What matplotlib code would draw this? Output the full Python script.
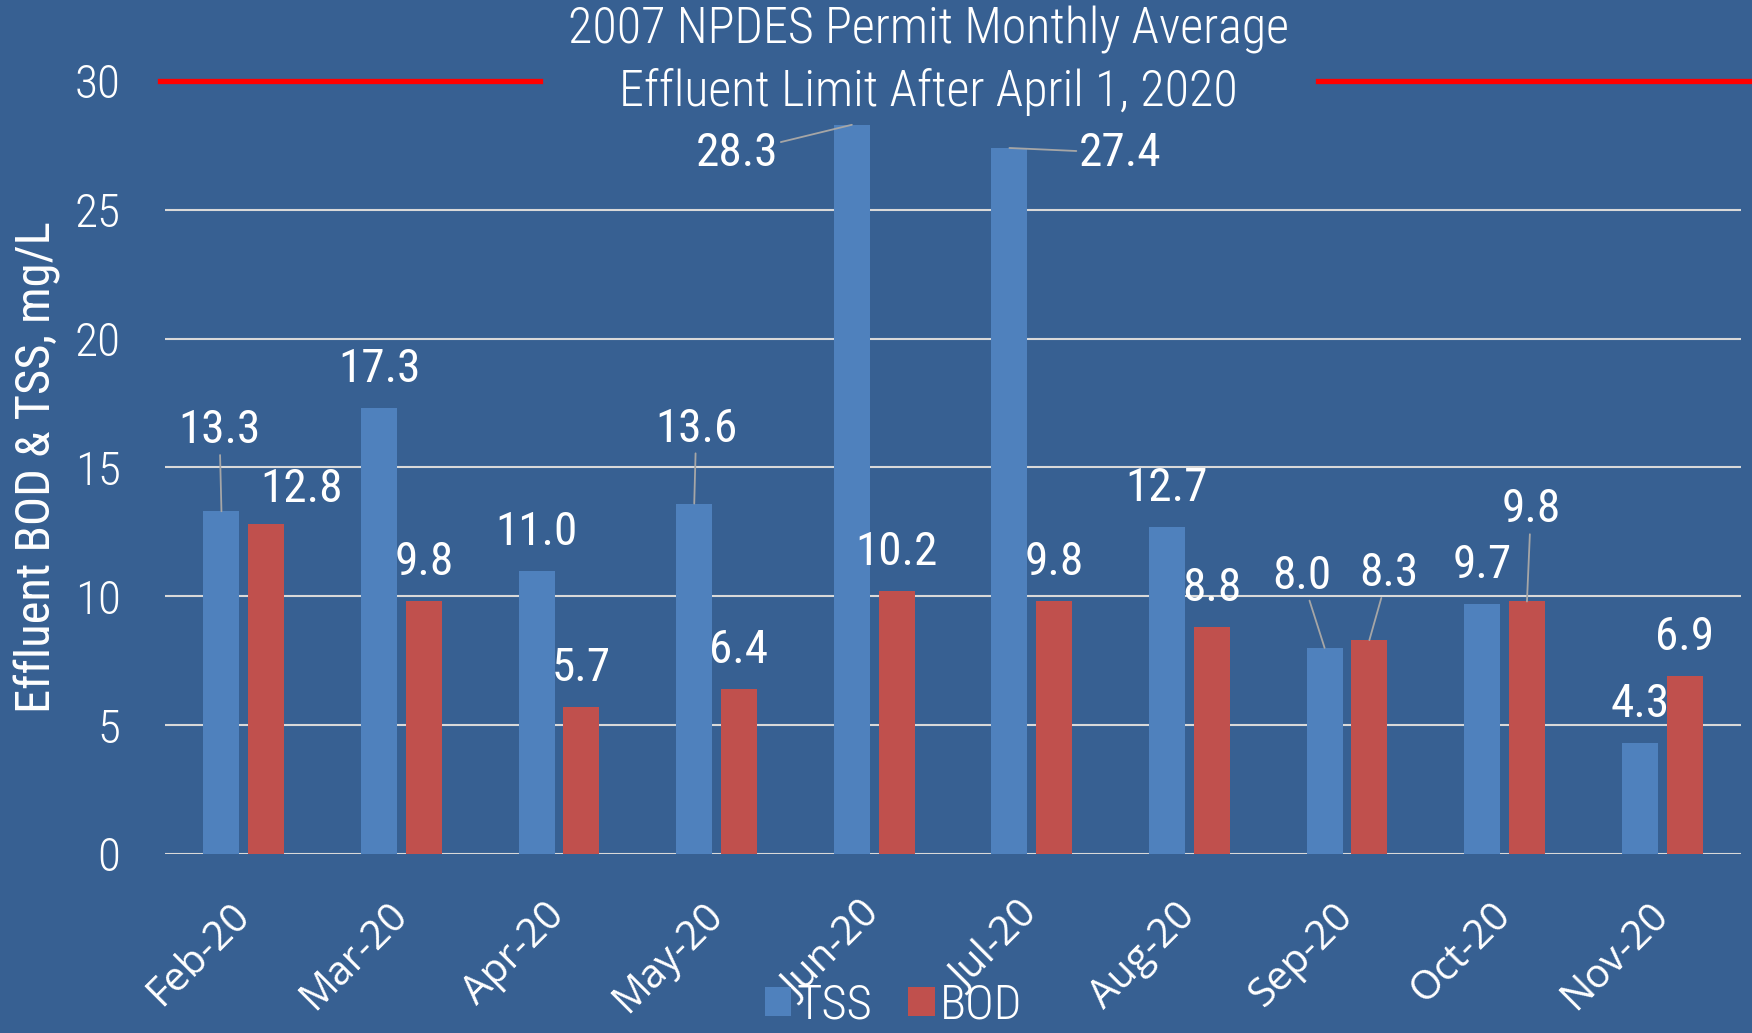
import matplotlib
matplotlib.use('Agg')
import matplotlib.pyplot as plt
import numpy as np
from matplotlib import font_manager

months = ['Feb-20', 'Mar-20', 'Apr-20', 'May-20', 'Jun-20',
          'Jul-20', 'Aug-20', 'Sep-20', 'Oct-20', 'Nov-20']
tss = [13.3, 17.3, 11.0, 13.6, 28.3, 27.4, 12.7, 8.0, 9.7, 4.3]
bod = [12.8, 9.8, 5.7, 6.4, 10.2, 9.8, 8.8, 8.3, 9.8, 6.9]
permit_limit = 30
yticks = [0, 5, 10, 15, 20, 25, 30]
title = '2007 NPDES Permit Monthly Average\nEffluent Limit After April 1, 2020'
ylabel = 'Effluent BOD & TSS, mg/L'

BG = '#376092'
TSS_C = '#4F81BD'
BOD_C = '#C0504D'
GRID_C = '#D9D9D9'


def pick(cands):
    names = {f.name for f in font_manager.fontManager.ttflist}
    for c in cands:
        if c in names:
            return c
    return 'DejaVu Sans'


narrow = pick(['Roboto Condensed', 'Liberation Sans Narrow', 'Open Sans Condensed',
               'PT Sans Narrow', 'Archivo Narrow', 'Fira Sans Condensed'])
wide = pick(['Open Sans', 'Noto Sans'])

fig = plt.figure(figsize=(17.52, 10.33), dpi=100, facecolor=BG)
ax = fig.add_axes([0.0942, 0.1733, 0.8995, 0.7483], facecolor=BG)

x = np.arange(len(months))
w = 0.228
off = 0.142
ax.bar(x - off, tss, w, color=TSS_C, label='TSS', zorder=2)
ax.bar(x + off, bod, w, color=BOD_C, label='BOD', zorder=2)

ax.set_xlim(-0.5, len(months) - 0.5)
ax.set_ylim(0, 30)
ax.set_yticks(yticks)
ax.set_yticklabels([str(t) for t in yticks], fontsize=34, color='white',
                   family=narrow, weight='light')
ax.tick_params(axis='y', length=0, pad=32)
ax.set_xticks(x)
ax.set_xticklabels(months, rotation=45, ha='right', va='center', rotation_mode='anchor',
                   fontsize=29, color='white', family=wide)
ax.tick_params(axis='x', length=0, pad=40)
for s in ax.spines.values():
    s.set_visible(False)
ax.yaxis.grid(True, color=GRID_C, lw=1.5, zorder=1)
ax.get_ygridlines()[-1].set_visible(False)
ax.set_axisbelow(True)

ax.set_ylabel(ylabel, fontsize=35, color='white', family=narrow, labelpad=10)

# data labels: (dx, dy) in pixels from the bar top, leader flag
special = {
    ('t', 0): (-2, 81, True),
    ('b', 0): (35, 35, False),
    ('t', 3): (2, 75, True),
    ('t', 4): (-115, -28, True),
    ('t', 5): (111, -5, True),
    ('t', 7): (-23, 72, True),
    ('b', 7): (19, 67, True),
    ('b', 8): (4, 92, True),
}
for key, vals, sign in (('t', tss, -1), ('b', bod, 1)):
    for i, v in enumerate(vals):
        dx, dy, lead = special.get((key, i), (0, 39, False))
        kw = {}
        if lead:
            kw['arrowprops'] = dict(arrowstyle='-', color='#A6A6A6', lw=1.3,
                                    shrinkA=0, shrinkB=0)
        ax.annotate(f'{v:.1f}', xy=(x[i] + sign * off, v),
                    xytext=(dx * 0.72, dy * 0.72), textcoords='offset points',
                    ha='center', va='center', fontsize=34, color='white',
                    family=narrow, zorder=4, **kw)

# permit limit line, broken around the title
ax.axhline(permit_limit, xmin=-0.003, xmax=0.238, color='#FF0000', lw=3.8,
           clip_on=False, zorder=5)
ax.axhline(permit_limit, xmin=0.7316, xmax=1.01, color='#FF0000', lw=3.8,
           clip_on=False, zorder=5)

fig.text(0.530, 0.941, title, ha='center', va='center', fontsize=36,
         color='white', family=narrow, weight='light', linespacing=1.35)

fig.legend(loc='center', bbox_to_anchor=(0.51, 0.027), ncol=2, frameon=False,
           prop={'family': narrow, 'size': 35, 'weight': 'light'}, labelcolor='white',
           handlelength=0.55, handleheight=0.55, handletextpad=0.1,
           columnspacing=0.75, borderpad=0.1)

fig.savefig('out.png', dpi=100, facecolor=BG)
